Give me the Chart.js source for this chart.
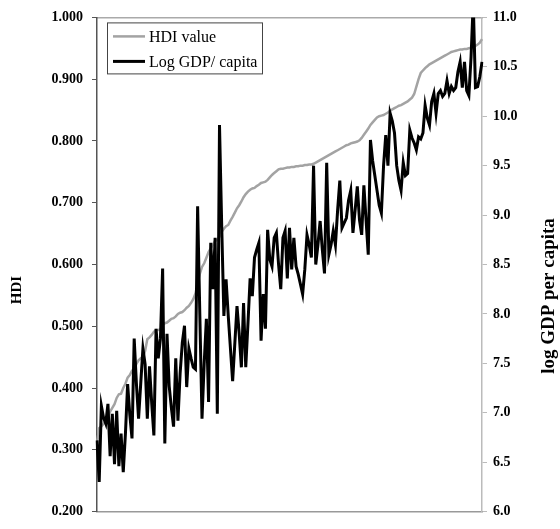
<!DOCTYPE html>
<html>
<head>
<meta charset="utf-8">
<script src="https://cdn.jsdelivr.net/npm/chart.js@4.4.0/dist/chart.umd.min.js"></script>
<style>
  html, body { margin: 0; padding: 0; background: #fff; }
</style>
</head>
<body>
<canvas id="c" width="560" height="529"></canvas>
<script>
// --- data: countries sorted by HDI (rank order, lowest first) ---
const hdiValues = [
  0.311, 0.335, 0.338, 0.342, 0.349, 0.353, 0.362, 0.368, 0.374, 0.384,
  0.390, 0.391, 0.400, 0.407, 0.417, 0.421, 0.428, 0.430, 0.439, 0.445,
  0.448, 0.450, 0.460, 0.479, 0.482, 0.486, 0.491, 0.494, 0.494, 0.495,
  0.502, 0.505, 0.506, 0.509, 0.512, 0.513, 0.516, 0.520, 0.522, 0.523,
  0.526, 0.530, 0.533, 0.538, 0.544, 0.553, 0.570, 0.585, 0.596, 0.602,
  0.611, 0.620, 0.626, 0.632, 0.638, 0.640, 0.645, 0.653, 0.658, 0.662,
  0.664, 0.671, 0.677, 0.684, 0.691, 0.696, 0.702, 0.709, 0.714, 0.718,
  0.721, 0.723, 0.724, 0.727, 0.729, 0.732, 0.733, 0.734, 0.737, 0.741,
  0.745, 0.748, 0.751, 0.754, 0.755, 0.755, 0.756, 0.757, 0.757, 0.758,
  0.758, 0.759, 0.759, 0.760, 0.760, 0.761, 0.761, 0.762, 0.762, 0.763,
  0.765, 0.767, 0.769, 0.771, 0.773, 0.775, 0.777, 0.779, 0.781, 0.783,
  0.785, 0.787, 0.789, 0.791, 0.793, 0.794, 0.796, 0.797, 0.798, 0.799,
  0.801, 0.805, 0.810, 0.815, 0.820, 0.826, 0.830, 0.834, 0.838, 0.840,
  0.841, 0.842, 0.844, 0.846, 0.849, 0.851, 0.853, 0.855, 0.857, 0.858,
  0.860, 0.862, 0.864, 0.867, 0.870, 0.876, 0.888, 0.900, 0.910, 0.914,
  0.918, 0.921, 0.924, 0.926, 0.928, 0.930, 0.932, 0.934, 0.936, 0.938,
  0.940, 0.942, 0.944, 0.945, 0.946, 0.947, 0.948, 0.948, 0.949, 0.949,
  0.950, 0.951, 0.952, 0.954, 0.956, 0.959, 0.965
];

const logGdpValues = [
  6.72, 6.30, 7.07, 6.95, 6.89, 7.09, 6.56, 6.99, 6.48, 7.02,
  6.46, 6.79, 6.40, 6.79, 7.29, 6.98, 6.74, 7.75, 7.30, 6.94,
  7.30, 7.65, 7.49, 6.94, 7.47, 7.10, 6.77, 7.85, 7.55, 7.75,
  8.46, 6.69, 7.80, 7.27, 7.05, 6.86, 7.55, 6.92, 7.40, 7.71,
  7.88, 7.26, 7.65, 7.55, 7.46, 7.44, 9.09, 8.00, 6.94, 7.50,
  7.95, 7.11, 8.72, 8.25, 8.77, 6.99, 9.91, 8.90, 7.98, 8.35,
  7.98, 7.65, 7.32, 7.70, 8.08, 7.80, 7.46, 8.11, 7.46, 7.90,
  8.36, 8.18, 8.57, 8.65, 8.72, 7.73, 8.20, 7.85, 8.85, 8.55,
  8.48, 8.77, 8.82, 8.50, 8.25, 8.77, 8.84, 8.36, 8.87, 8.45,
  8.77, 8.48, 8.40, 8.30, 8.20, 8.45, 8.80, 8.70, 8.57, 9.50,
  8.50, 8.70, 8.94, 8.65, 8.41, 9.53, 8.60, 8.70, 8.84, 8.70,
  9.05, 9.35, 8.87, 8.92, 8.97, 9.15, 9.25, 8.82, 9.05, 9.29,
  8.95, 8.80, 9.30, 8.95, 8.60, 9.76, 9.55, 9.40, 9.25, 9.10,
  9.02, 9.50, 9.81, 9.50, 10.03, 9.95, 9.83, 9.50, 9.35, 9.25,
  9.53, 9.40, 9.42, 9.86, 9.78, 9.73, 9.66, 9.79, 9.77, 9.83,
  10.11, 9.98, 9.91, 10.15, 10.23, 10.03, 10.23, 10.26, 10.20, 10.23,
  10.36, 10.23, 10.30, 10.26, 10.29, 10.45, 10.55, 10.29, 10.55, 10.26,
  10.21, 10.60, 11.16, 10.29, 10.30, 10.40, 10.55
];

// one category per country (rank position)
const countryRanks = hdiValues.map((_, i) => String(i + 1));

// axis ranges / tick steps as printed on the figure
const hdiAxis = { min: 0.2, max: 1.0, step: 0.1 };
const gdpAxis = { min: 6.0, max: 11.0, step: 0.5 };

const SERIF = "'Liberation Serif', 'Times New Roman', serif";
const tickFont = { family: SERIF, size: 14, weight: 'bold' };

// --- legend inside the plot, top-left ---
const boxLegend = {
  id: 'boxLegend',
  afterDatasetsDraw(chart) {
    const { ctx, chartArea } = chart;
    const x = chartArea.left + 10, y = chartArea.top + 5;
    const w = 155, h = 51;
    ctx.save();
    ctx.fillStyle = '#fff';
    ctx.fillRect(x, y, w, h);
    ctx.strokeStyle = '#444';
    ctx.lineWidth = 1;
    ctx.strokeRect(x + 0.5, y + 0.5, w, h);
    ctx.font = `16px ${SERIF}`;
    ctx.textBaseline = 'middle';
    chart.data.datasets.forEach((ds, i) => {
      const ly = y + 14 + i * 25;
      ctx.strokeStyle = ds.borderColor;
      ctx.lineWidth = ds.borderWidth;
      ctx.beginPath();
      ctx.moveTo(x + 6, ly);
      ctx.lineTo(x + 38, ly);
      ctx.stroke();
      ctx.fillStyle = '#000';
      ctx.fillText(ds.label, x + 42, ly + 1);
    });
    ctx.restore();
  }
};

// both axis titles read bottom-to-top, sitting a bit below mid-height
const axisTitles = {
  id: 'axisTitles',
  afterDraw(chart) {
    const { ctx } = chart;
    const items = [
      { text: 'HDI', x: 17, y: 290, size: 15 },
      { text: 'log GDP per capita', x: 549, y: 296, size: 19 }
    ];
    ctx.save();
    ctx.fillStyle = '#000';
    ctx.textAlign = 'center';
    ctx.textBaseline = 'middle';
    items.forEach(t => {
      ctx.save();
      ctx.translate(t.x, t.y);
      ctx.rotate(-Math.PI / 2);
      ctx.font = `bold ${t.size}px ${SERIF}`;
      ctx.fillText(t.text, 0, 0);
      ctx.restore();
    });
    ctx.restore();
  }
};

new Chart(document.getElementById('c'), {
  type: 'line',
  data: {
    labels: countryRanks,
    datasets: [
      {
        label: 'HDI value',
        data: hdiValues,
        yAxisID: 'y',
        borderColor: '#a3a3a3',
        borderWidth: 2.5,
        pointRadius: 0,
        tension: 0,
        order: 1
      },
      {
        label: 'Log GDP/ capita',
        data: logGdpValues,
        yAxisID: 'y1',
        borderColor: '#000',
        borderWidth: 3,
        pointRadius: 0,
        tension: 0,
        order: 0
      }
    ]
  },
  options: {
    responsive: false,
    animation: false,
    layout: { padding: { top: 15, bottom: 9, left: 0, right: 0 } },
    plugins: {
      legend: { display: false },
      tooltip: { enabled: false }
    },
    scales: {
      x: {
        position: 'bottom',
        ticks: { display: false },
        grid: { display: false },
        border: { color: '#999', width: 1.5 },
        afterFit: s => { s.height = 0; }
      },
      xTop: {
        position: 'top',
        ticks: { display: false },
        grid: { display: false },
        border: { color: '#aaa', width: 1.5 },
        afterFit: s => { s.height = 0; }
      },
      y: {
        position: 'left',
        min: hdiAxis.min,
        max: hdiAxis.max,
        ticks: {
          stepSize: hdiAxis.step,
          color: '#000',
          font: tickFont,
          padding: 9,
          callback: v => v.toFixed(3)
        },
        grid: { drawOnChartArea: false, color: '#555', tickLength: 5 },
        border: { color: '#555', width: 1.5 },
        afterFit: s => { s.width = 97; }
      },
      y1: {
        position: 'right',
        min: gdpAxis.min,
        max: gdpAxis.max,
        ticks: {
          stepSize: gdpAxis.step,
          color: '#000',
          font: tickFont,
          padding: 6,
          callback: v => v.toFixed(1)
        },
        grid: { drawOnChartArea: false, color: '#bbb', tickLength: 5 },
        border: { color: '#bbb', width: 1.5 },
        afterFit: s => { s.width = 78; }
      }
    }
  },
  plugins: [boxLegend, axisTitles]
});
</script>
</body>
</html>
